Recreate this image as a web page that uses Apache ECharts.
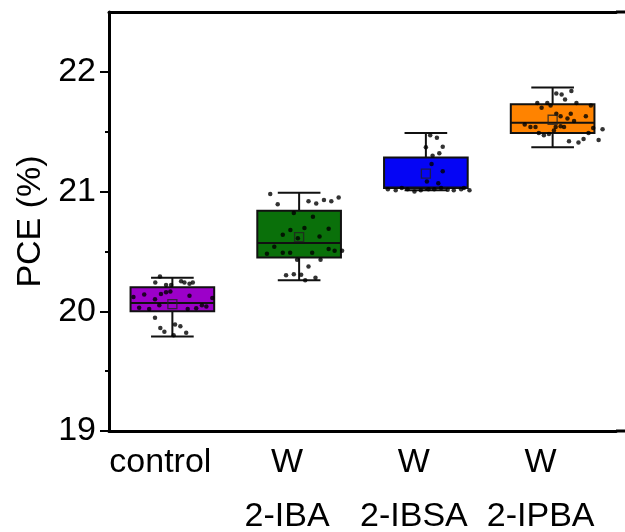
<!DOCTYPE html>
<html>
<head>
<meta charset="utf-8">
<title>PCE box chart</title>
<script src="https://cdn.jsdelivr.net/npm/echarts@6/dist/echarts.min.js"></script>
<style>
    html, body { margin: 0; background: #fff; }
    #main { width: 625px; height: 532px; }
</style>
</head>
<body>
<div id="main"></div>
<script>
    var categories = ['control', 'W\n2-IBA', 'W\n2-IBSA', 'W\n2-IPBA'];
    var boxColors = ['#9C00C9', '#0A700A', '#0505F5', '#FF8300'];
    // [min, Q1, median, Q3, max]
    var boxStats = [
        [19.79, 20.00, 20.07, 20.20, 20.28],
        [20.26, 20.45, 20.57, 20.84, 20.99],
        [21.01, 21.03, 21.035, 21.285, 21.49],
        [21.37, 21.49, 21.575, 21.73, 21.87]
    ];
    var means = [20.06, 20.62, 21.15, 21.60];
    var yTicks = [19, 20, 21, 22];
    var yMinorTicks = [19.5, 20.5, 21.5];

    // individual devices: [offset from box centre (in categories), PCE]
    var pointsControl = [
        [-0.098, 20.29], [-0.135, 20.24], [-0.05, 20.22], [0.069, 20.25], [0.095, 20.24],
        [0.135, 20.23], [0.161, 20.24], [-0.01, 20.22], [-0.307, 20.12], [-0.222, 20.14],
        [-0.137, 20.10], [-0.09, 20.145], [-0.05, 20.16], [-0.016, 20.165], [0.135, 20.13],
        [0.315, 20.11], [-0.262, 20.03], [-0.183, 20.02], [-0.103, 20.05], [0.121, 20.02],
        [0.188, 20.025], [0.233, 20.05], [0.268, 20.04], [-0.137, 19.945], [-0.095, 19.86],
        [-0.063, 19.83], [0.021, 19.89], [0.063, 19.875], [0.109, 19.82], [0.01, 19.80]
    ];
    var pointsIBA = [
        [-0.228, 20.98], [-0.169, 20.895], [0.074, 20.92], [0.135, 20.90], [0.196, 20.93],
        [0.254, 20.92], [0.312, 20.95], [-0.042, 20.82], [0.109, 20.79], [-0.069, 20.68],
        [0.042, 20.695], [0.233, 20.69], [-0.129, 20.64], [-0.01, 20.61], [0.161, 20.625],
        [-0.196, 20.54], [-0.254, 20.48], [-0.129, 20.49], [-0.071, 20.49], [0.103, 20.49],
        [0.233, 20.52], [0.28, 20.505], [0.339, 20.505], [-0.016, 20.43], [0.169, 20.43],
        [0.074, 20.375], [-0.103, 20.30], [-0.042, 20.31], [0.016, 20.305], [0.129, 20.28],
        [0.048, 20.26]
    ];
    var pointsIBSA = [
        [0.034, 21.47], [0.087, 21.45], [0.0, 21.37], [0.133, 21.375], [0.106, 21.32],
        [0.053, 21.30], [0.045, 21.23], [0.133, 21.17], [0.008, 21.085], [0.098, 21.07],
        [-0.238, 21.01], [-0.145, 21.02], [-0.04, 21.01], [0.066, 21.02], [0.172, 21.015],
        [0.278, 21.02], [0.344, 21.01], [-0.30, 21.02], [-0.19, 21.03], [-0.09, 21.00],
        [0.02, 21.02], [0.12, 21.03], [0.22, 21.01], [0.30, 21.03]
    ];
    var pointsIPBA = [
        [0.029, 21.82], [0.071, 21.81], [0.148, 21.84], [0.098, 21.77], [-0.121, 21.74],
        [-0.042, 21.74], [-0.016, 21.72], [0.188, 21.74], [0.302, 21.72], [-0.087, 21.70],
        [0.029, 21.65], [0.063, 21.63], [0.143, 21.65], [0.262, 21.63], [0.169, 21.59],
        [0.117, 21.61], [-0.22, 21.56], [-0.175, 21.54], [-0.135, 21.54], [0.024, 21.54],
        [0.063, 21.545], [0.09, 21.54], [0.32, 21.53], [0.394, 21.52], [-0.109, 21.49],
        [-0.069, 21.47], [-0.029, 21.48], [0.01, 21.51], [0.283, 21.49], [0.129, 21.42],
        [0.204, 21.41], [0.244, 21.44], [0.363, 21.43]
    ];
    var pointGroups = [pointsControl, pointsIBA, pointsIBSA, pointsIPBA];

    var boxData = boxStats.map(function (s, i) {
        return [i].concat(s);
    });
    var meanData = means.map(function (m, i) {
        return [i, m];
    });
    var dotData = [];
    pointGroups.forEach(function (grp, i) {
        grp.forEach(function (p) {
            dotData.push([i + p[0], p[1]]);
        });
    });

    var font = '"Liberation Sans", Arial, sans-serif';
    var gridLeft = 109, gridRight = 9, gridTop = 12, gridBottom = 101;

    function renderBox(params, api) {
        var idx = api.value(0);
        var pMin = api.coord([idx, api.value(1)]);
        var pQ1 = api.coord([idx, api.value(2)]);
        var pMed = api.coord([idx, api.value(3)]);
        var pQ3 = api.coord([idx, api.value(4)]);
        var pMax = api.coord([idx, api.value(5)]);
        var bw = api.size([1, 0])[0] * 0.66;
        var cw = bw * 0.51;
        var cx = pMed[0];
        var line = { stroke: '#111', lineWidth: 2 };
        return {
            type: 'group',
            children: [
                { type: 'line', shape: { x1: cx, y1: pMax[1], x2: cx, y2: pQ3[1] }, style: line },
                { type: 'line', shape: { x1: cx, y1: pQ1[1], x2: cx, y2: pMin[1] }, style: line },
                { type: 'line', shape: { x1: cx - cw / 2, y1: pMax[1], x2: cx + cw / 2, y2: pMax[1] }, style: line },
                { type: 'line', shape: { x1: cx - cw / 2, y1: pMin[1], x2: cx + cw / 2, y2: pMin[1] }, style: line },
                {
                    type: 'rect',
                    shape: { x: cx - bw / 2, y: pQ3[1], width: bw, height: pQ1[1] - pQ3[1] },
                    style: { fill: boxColors[params.dataIndex], stroke: '#111', lineWidth: 2 }
                },
                { type: 'line', shape: { x1: cx - bw / 2, y1: pMed[1], x2: cx + bw / 2, y2: pMed[1] }, style: line }
            ]
        };
    }

    var myChart = echarts.init(document.getElementById('main'), null, { renderer: 'canvas' });

    var tickLine = { color: '#000', width: 2 };
    var option = {
        animation: false,
        backgroundColor: '#fff',
        textStyle: { fontFamily: font },
        grid: [
            {
                left: gridLeft, right: gridRight, top: gridTop, bottom: gridBottom,
                containLabel: false, outerBoundsMode: 'none'
            }
        ],
        xAxis: [
            {
                type: 'category',
                data: categories,
                axisLine: { lineStyle: { color: '#000', width: 3 } },
                axisTick: { alignWithLabel: true, length: 6, lineStyle: tickLine },
                axisLabel: {
                    color: '#000', fontSize: 34, fontFamily: font, lineHeight: 54,
                    margin: 5, padding: [0, 24, 0, 0], interval: 0
                },
                splitLine: { show: false }
            },
            {
                type: 'value',
                position: 'top',
                min: -0.5,
                max: 3.5,
                axisLine: { show: true, onZero: false, lineStyle: { color: '#000', width: 3 } },
                axisTick: { show: false },
                axisLabel: { show: false },
                splitLine: { show: false }
            }
        ],
        yAxis: [
            {
                type: 'value',
                min: yTicks[0],
                max: 22.5,
                interval: 1,
                name: 'PCE (%)',
                nameLocation: 'middle',
                nameGap: 58,
                nameTextStyle: { color: '#000', fontSize: 34, fontFamily: font },
                axisLine: { show: true, onZero: false, lineStyle: { color: '#000', width: 3 } },
                axisTick: { length: 9, customValues: yTicks, lineStyle: tickLine },
                axisLabel: { color: '#000', fontSize: 34, fontFamily: font, margin: 13, customValues: yTicks },
                splitLine: { show: false }
            },
            {
                // half-unit minor ticks on the same scale
                type: 'value',
                position: 'left',
                min: yTicks[0],
                max: 22.5,
                axisLine: { show: false, onZero: false },
                axisTick: { show: true, length: 4, customValues: yMinorTicks, lineStyle: tickLine },
                axisLabel: { show: false },
                splitLine: { show: false }
            }
        ],
        series: [
            {
                name: 'box',
                type: 'custom',
                xAxisIndex: 0,
                renderItem: renderBox,
                encode: { x: 0, y: [1, 2, 3, 4, 5] },
                data: boxData,
                z: 2
            },
            {
                name: 'devices',
                type: 'scatter',
                xAxisIndex: 1,
                symbol: 'circle',
                symbolSize: 4.5,
                itemStyle: { color: '#000' },
                data: dotData,
                z: 3
            },
            {
                name: 'mean',
                type: 'scatter',
                xAxisIndex: 0,
                symbol: 'rect',
                symbolSize: 9,
                itemStyle: { color: 'rgba(0,0,0,0)', borderColor: '#222', borderWidth: 1.3 },
                data: meanData,
                z: 4
            }
        ],
        graphic: [
            // frame continues past the last box to the image edge
            { type: 'line', shape: { x1: 625 - gridRight, y1: gridTop, x2: 625, y2: gridTop }, style: { stroke: '#000', lineWidth: 3 } },
            { type: 'line', shape: { x1: 625 - gridRight, y1: 532 - gridBottom, x2: 625, y2: 532 - gridBottom }, style: { stroke: '#000', lineWidth: 3 } }
        ]
    };

    myChart.setOption(option);
</script>
</body>
</html>
